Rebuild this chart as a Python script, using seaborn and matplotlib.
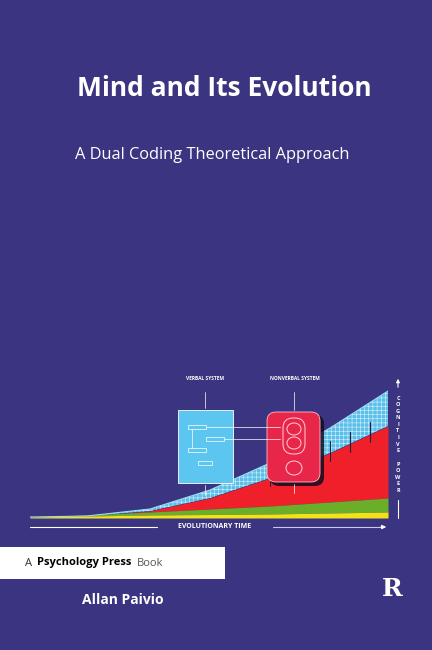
import numpy as np
import matplotlib.pyplot as plt
import seaborn as sns
from matplotlib.patches import FancyBboxPatch, Rectangle, Ellipse

# evolutionary time (px from the left end) and stacked "cognitive power" tops
time = [0, 57, 120, 180, 240, 300, 358]
yellow_top = [1, 2, 3, 3.5, 4, 5, 6]
green_top = [1, 3, 6, 9, 12, 16, 20]
red_top = [1, 2, 7, 20, 40, 65, 92]
blue_top = [1, 2, 9, 28, 55, 90, 127]

bg = '#3b3480'
sns.set_style('white')
plt.rcParams['font.family'] = ['Open Sans', 'DejaVu Sans']
plt.rcParams['hatch.linewidth'] = 0.4

fig = plt.figure(figsize=(4.32, 6.5), dpi=100, facecolor=bg)

# data area: x 30..388 px, baseline at 518 px
ax = fig.add_axes([30 / 432, (650 - 518) / 650, 358 / 432, 135 / 650])
ax.set_zorder(0)
ax.set_xlim(0, 358)
ax.set_ylim(0, 135)
ax.axis('off')
ax.fill_between(time, red_top, blue_top, color='#5bc0e8', edgecolor='#d8f0ff',
                hatch='++++', linewidth=0)
ax.fill_between(time, green_top, red_top, color='#f0202a', linewidth=0)
ax.fill_between(time, yellow_top, green_top, color='#6aae2a', linewidth=0)
ax.fill_between(time, 0, yellow_top, color='#f2e21a', linewidth=0)
sns.lineplot(x=time, y=blue_top, ax=ax, color='#9fd8f0', linewidth=0.8)
for xi in [240, 260, 280, 300, 320, 340]:
    y0 = np.interp(xi, time, red_top)
    ax.plot([xi, xi], [y0 - 8, y0 + 12], color='#202040', linewidth=0.8)

# full page overlay in pixel coordinates
page = fig.add_axes([0, 0, 1, 1])
page.set_zorder(1)
page.set_xlim(0, 432)
page.set_ylim(650, 0)
page.axis('off')

page.text(224, 88, 'Mind and Its Evolution', color='white', fontsize=19,
          fontweight='bold', ha='center', va='center')
page.text(212, 155, 'A Dual Coding Theoretical Approach', color='white',
          fontsize=11.8, ha='center', va='center')

# verbal system box
page.add_patch(Rectangle((178, 410), 55, 73, facecolor='#5cc6f0', edgecolor='white', lw=0.6))
for (x0, y0, w) in [(188, 425, 18), (206, 437, 18), (188, 448, 18), (198, 461, 14)]:
    page.add_patch(Rectangle((x0, y0), w, 4, facecolor='none', edgecolor='white', lw=0.5))
page.plot([192, 192], [429, 448], color='white', lw=0.5)
page.plot([206, 280], [427, 427], color='white', lw=0.5)
page.plot([224, 280], [439, 439], color='white', lw=0.5)
page.plot([205, 205], [392, 408], color='white', lw=0.5)
page.plot([205, 205], [485, 495], color='white', lw=0.5)

# nonverbal system box
page.add_patch(FancyBboxPatch((270, 415), 54, 71, boxstyle='round,pad=0,rounding_size=9',
                              facecolor='#120a20', edgecolor='none', alpha=0.85))
page.add_patch(FancyBboxPatch((267, 412), 53, 70, boxstyle='round,pad=0,rounding_size=9',
                              facecolor='#e8264a', edgecolor='#ffc0c8', lw=0.6))
page.add_patch(FancyBboxPatch((283, 418), 22, 36, boxstyle='round,pad=0,rounding_size=10',
                              facecolor='none', edgecolor='#ffd0d8', lw=0.7))
for cy in [429, 443]:
    page.add_patch(Ellipse((294, cy), 14, 12, facecolor='none', edgecolor='#ffd0d8', lw=0.7))
page.add_patch(Ellipse((294, 468), 16, 14, facecolor='none', edgecolor='#ffd0d8', lw=0.7))
page.plot([294, 294], [392, 410], color='white', lw=0.5)
page.plot([294, 294], [484, 493], color='white', lw=0.5)

page.text(205, 379, 'VERBAL SYSTEM', color='white', fontsize=3.5, ha='center',
          va='center', fontweight='bold')
page.text(295, 379, 'NONVERBAL SYSTEM', color='white', fontsize=3.5, ha='center',
          va='center', fontweight='bold')

# axes arrows
page.annotate('', xy=(398, 376), xytext=(398, 390),
              arrowprops=dict(arrowstyle='-|>', color='white', lw=0.8, mutation_scale=5))
for i, ch in enumerate('COGNITIVE POWER'):
    page.text(398, 398 + i * 6.6, ch, color='white', fontsize=4, ha='center',
              va='center', fontweight='bold')
page.plot([398, 398], [500, 518], color='white', lw=0.8)
page.plot([30, 157], [527, 527], color='white', lw=0.8)
page.plot([273, 380], [527, 527], color='#c8c8f0', lw=0.8)
page.annotate('', xy=(389, 527), xytext=(378, 527),
              arrowprops=dict(arrowstyle='-|>', color='white', lw=0.8, mutation_scale=6))
page.text(215, 527, 'EVOLUTIONARY TIME', color='white', fontsize=5, ha='center',
          va='center', fontweight='bold')

# publisher strip
page.add_patch(Rectangle((0, 547), 225, 32, facecolor='white', edgecolor='none'))
page.text(25, 563, 'A', color='#333333', fontsize=8, va='center')
page.text(37, 563, 'Psychology Press', color='black', fontsize=8, va='center',
          fontweight='bold')
page.text(137, 563, 'Book', color='#555555', fontsize=8, va='center')
page.text(123, 600, 'Allan Paivio', color='white', fontsize=10, ha='center',
          va='center', fontweight='bold')
page.text(392, 589, 'R', color='white', fontsize=18, ha='center', va='center',
          fontweight='bold', family='DejaVu Serif')

fig.savefig('out.png', dpi=100, facecolor=bg)
